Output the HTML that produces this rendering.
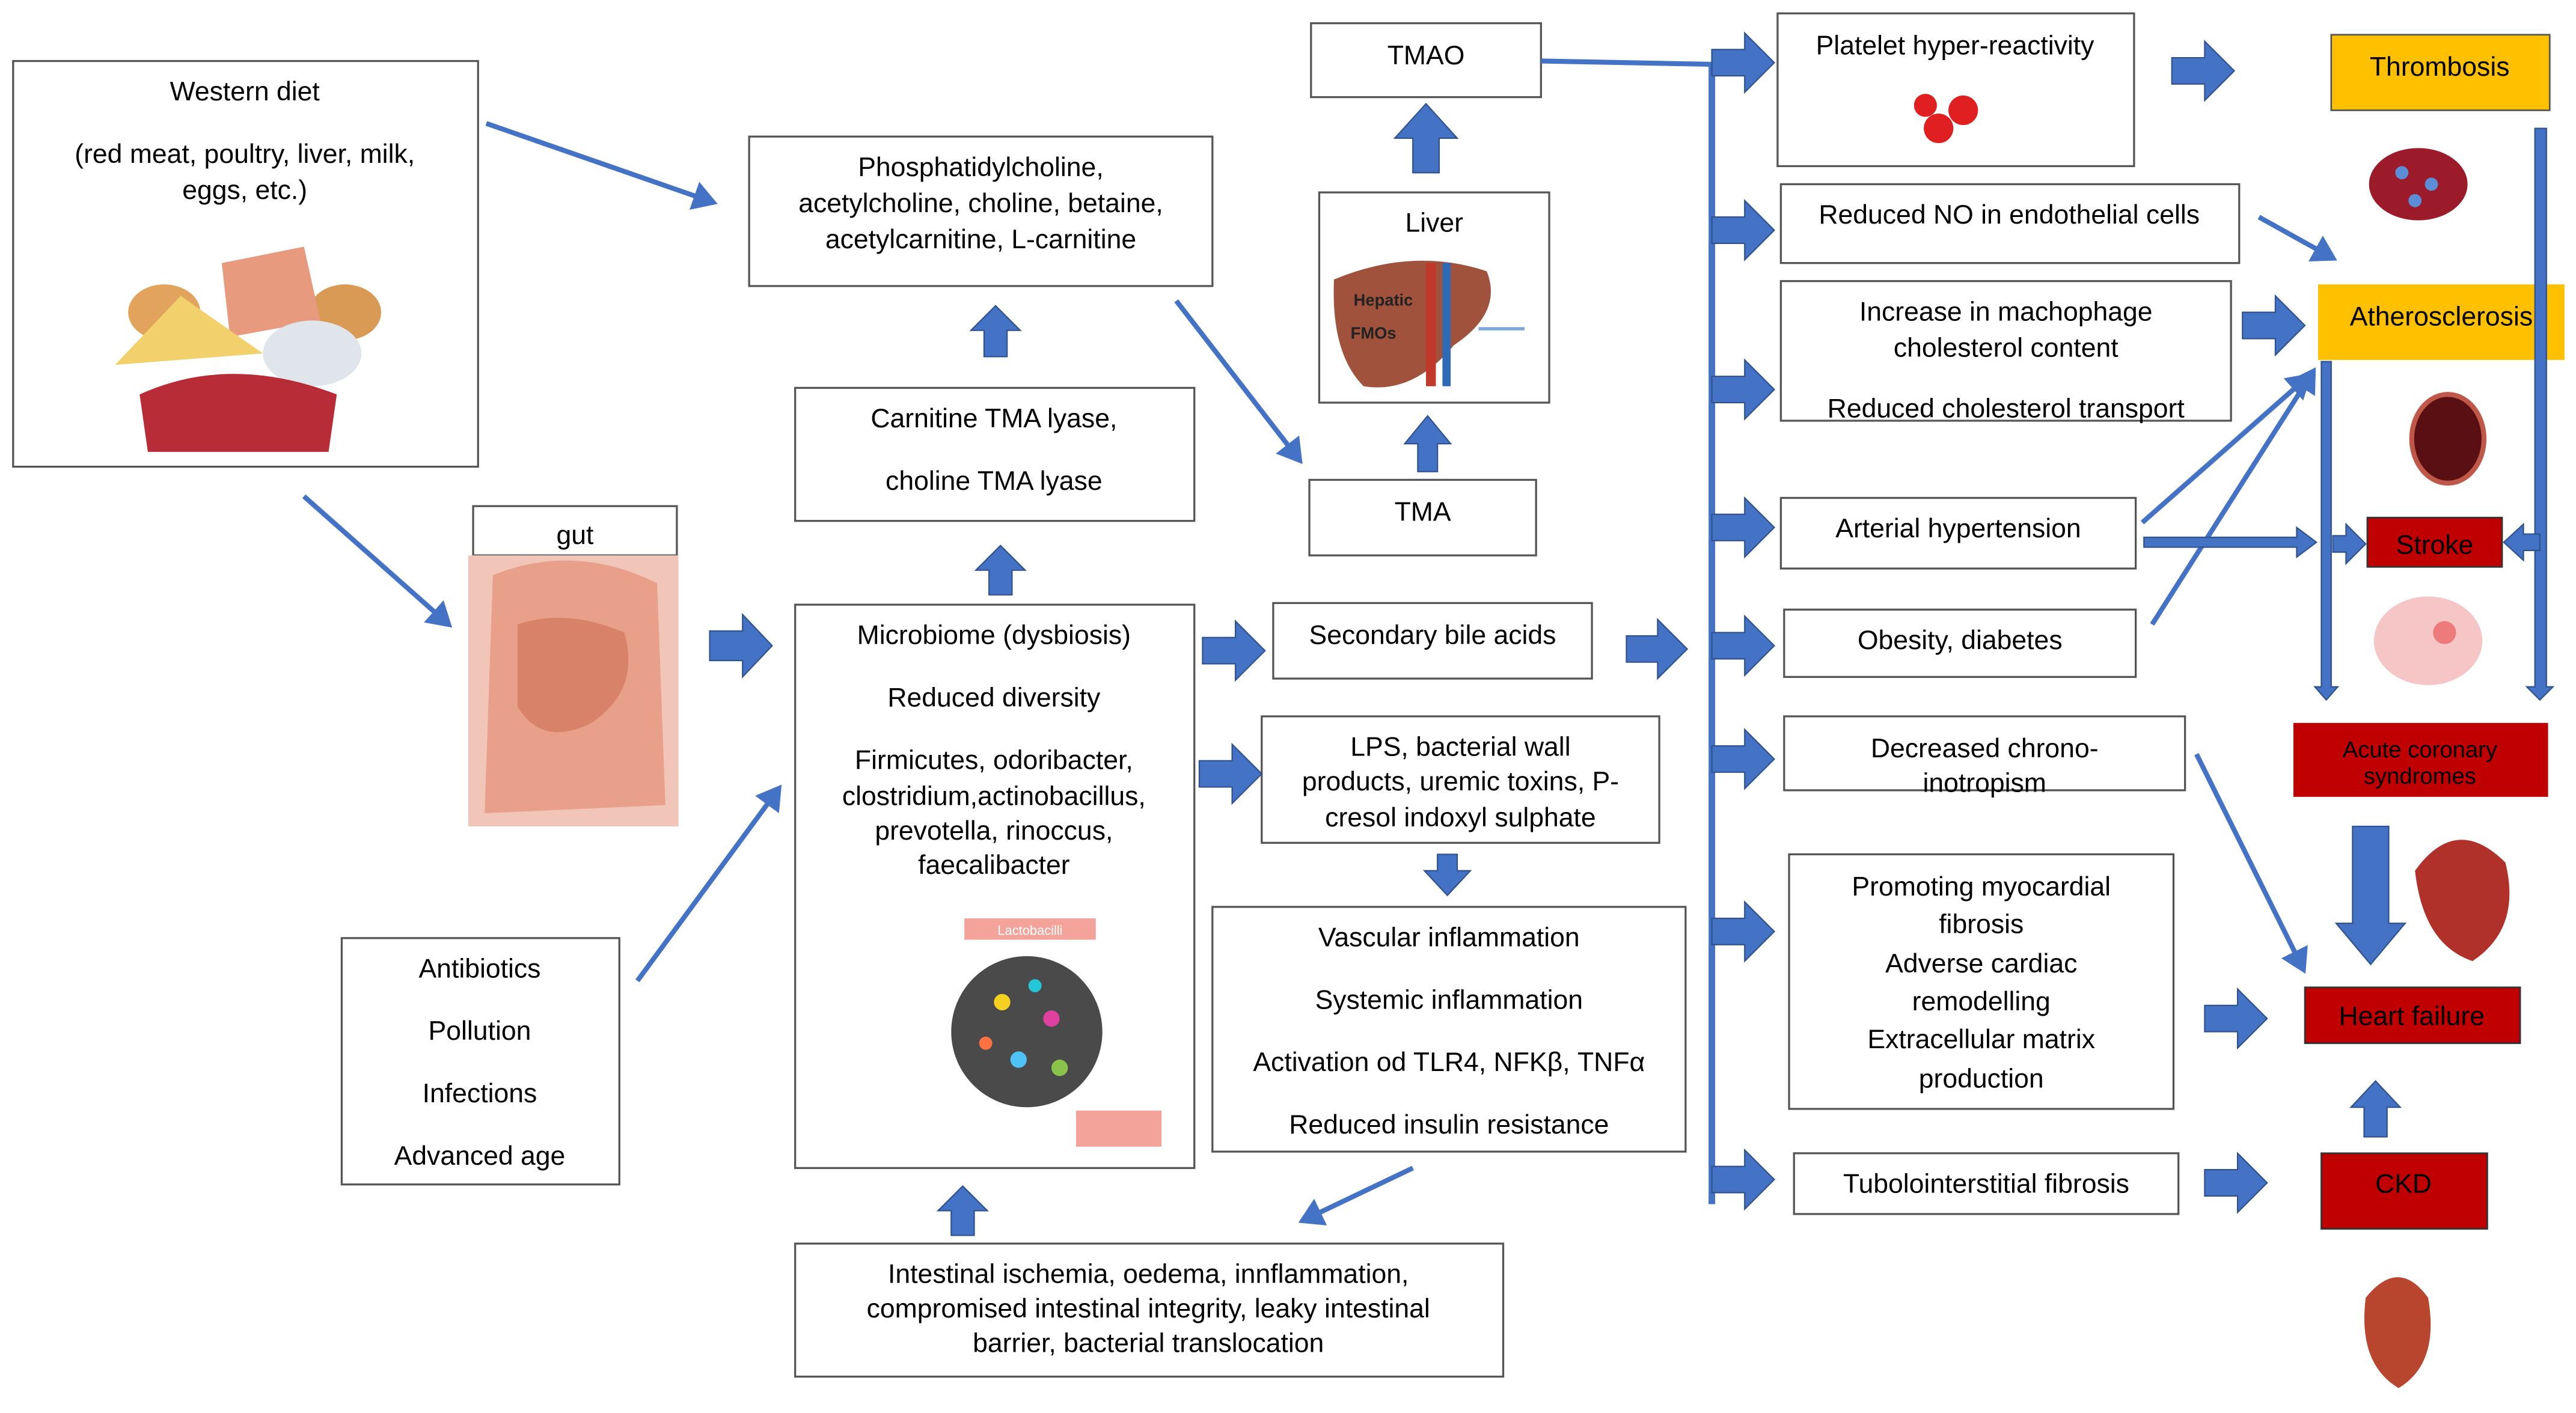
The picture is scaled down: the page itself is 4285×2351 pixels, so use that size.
<!DOCTYPE html>
<html><head><meta charset="utf-8"><style>
html,body{margin:0;padding:0;background:#fff}
svg{display:block}
text{font-family:"Liberation Sans",sans-serif;font-size:16.3px;fill:#000;text-anchor:middle}
.b{fill:#fff;stroke:#555;stroke-width:1.2}
.a{fill:#4472c4;stroke:#2f528f;stroke-width:0.8}
.l{stroke:#4472c4;stroke-width:3;fill:none}
</style></head><body>
<svg width="4285" height="2351" viewBox="0 0 1568 860" xmlns="http://www.w3.org/2000/svg">
<defs><marker id="m" markerWidth="6" markerHeight="6" refX="4" refY="3" orient="auto" markerUnits="strokeWidth"><path d="M0,0 L5,3 L0,6 Z" fill="#4472c4"/></marker></defs>

<rect class="b" x="8" y="37" width="283" height="247"/>
<text x="149" y="61">Western diet</text>
<text x="149" y="99">(red meat, poultry, liver, milk,</text>
<text x="149" y="121">eggs, etc.)</text>
<ellipse cx="100" cy="190" rx="22" ry="17" fill="#e2a45c"/>
<ellipse cx="210" cy="190" rx="22" ry="17" fill="#d99a55"/>
<path d="M135,160 L185,150 L195,195 L140,205 Z" fill="#e79a7e"/>
<path d="M70,222 L110,180 L160,215 Z" fill="#f2d06b"/>
<ellipse cx="190" cy="215" rx="30" ry="20" fill="#dfe5ea"/>
<path d="M85,240 Q140,215 205,240 L200,275 L90,275 Z" fill="#b82c38"/>

<rect class="b" x="456" y="83" width="282" height="91"/>
<text x="597" y="107">Phosphatidylcholine,</text>
<text x="597" y="129">acetylcholine, choline, betaine,</text>
<text x="597" y="151">acetylcarnitine, L-carnitine</text>

<rect class="b" x="484" y="236" width="243" height="81"/>
<text x="605" y="260">Carnitine TMA lyase,</text>
<text x="605" y="298">choline TMA lyase</text>

<rect class="b" x="798" y="14" width="140" height="45"/>
<text x="868" y="39">TMAO</text>

<rect class="b" x="803" y="117" width="140" height="128"/>
<text x="873" y="141">Liver</text>
<path d="M812,170 Q860,150 905,165 Q915,190 885,210 Q860,240 830,235 Q810,215 812,170 Z" fill="#a0523d"/>
<rect x="868" y="160" width="6" height="75" fill="#c0392b"/><rect x="878" y="160" width="5" height="75" fill="#2e6ab5"/>
<line x1="900" y1="200" x2="928" y2="200" stroke="#7fa7d9" stroke-width="2"/>
<text x="842" y="186" style="font-size:10px;font-weight:bold;fill:#222">Hepatic</text>
<text x="836" y="206" style="font-size:10px;font-weight:bold;fill:#222">FMOs</text>

<rect class="b" x="797" y="292" width="138" height="46"/>
<text x="866" y="317">TMA</text>

<rect class="b" x="288" y="308" width="124" height="30"/>
<text x="350" y="331">gut</text>
<rect x="285" y="338" width="128" height="165" fill="#f1c6b8"/>
<path d="M300,350 Q350,330 400,355 L405,490 L295,495 Z" fill="#e8a08a"/>
<path d="M315,380 Q345,370 380,385 Q390,420 360,440 Q330,455 315,430 Z" fill="#d9826a"/>

<rect class="b" x="484" y="368" width="243" height="343"/>
<text x="605" y="392">Microbiome (dysbiosis)</text>
<text x="605" y="430">Reduced diversity</text>
<text x="605" y="468">Firmicutes, odoribacter,</text>
<text x="605" y="490">clostridium,actinobacillus,</text>
<text x="605" y="511">prevotella, rinoccus,</text>
<text x="605" y="532">faecalibacter</text>
<rect x="587" y="559" width="80" height="13" fill="#f4a39a"/>
<text x="627" y="569" style="font-size:8px;fill:#fff">Lactobacilli</text>
<circle cx="625" cy="628" r="46" fill="#4a4a4a"/>
<circle cx="610" cy="610" r="5" fill="#f5d020"/><circle cx="640" cy="620" r="5" fill="#e040a0"/>
<circle cx="620" cy="645" r="5" fill="#4fc3f7"/><circle cx="645" cy="650" r="5" fill="#8bc34a"/>
<circle cx="600" cy="635" r="4" fill="#ff7043"/><circle cx="630" cy="600" r="4" fill="#26c6da"/>
<rect x="655" y="676" width="52" height="22" fill="#f4a39a"/>

<rect class="b" x="775" y="367" width="194" height="46"/>
<text x="872" y="392">Secondary bile acids</text>

<rect class="b" x="768" y="436" width="242" height="77"/>
<text x="889" y="460">LPS, bacterial wall</text>
<text x="889" y="481">products, uremic toxins, P-</text>
<text x="889" y="503">cresol indoxyl sulphate</text>

<rect class="b" x="738" y="552" width="288" height="149"/>
<text x="882" y="576">Vascular inflammation</text>
<text x="882" y="614">Systemic inflammation</text>
<text x="882" y="652">Activation od TLR4, NFKβ, TNFα</text>
<text x="882" y="690">Reduced insulin resistance</text>

<rect class="b" x="208" y="571" width="169" height="150"/>
<text x="292" y="595">Antibiotics</text>
<text x="292" y="633">Pollution</text>
<text x="292" y="671">Infections</text>
<text x="292" y="709">Advanced age</text>

<rect class="b" x="484" y="757" width="431" height="81"/>
<text x="699" y="781">Intestinal ischemia, oedema, innflammation,</text>
<text x="699" y="802">compromised intestinal integrity, leaky intestinal</text>
<text x="699" y="823">barrier, bacterial translocation</text>

<rect class="b" x="1082" y="8" width="217" height="93"/>
<text x="1190" y="33">Platelet hyper-reactivity</text>
<g fill="#e02020"><circle cx="1180" cy="78" r="9"/><circle cx="1195" cy="67" r="9"/><circle cx="1172" cy="64" r="7"/></g>

<rect class="b" x="1084" y="112" width="279" height="48"/>
<text x="1223" y="136">Reduced NO in endothelial cells</text>

<rect class="b" x="1084" y="171" width="274" height="85"/>
<text x="1221" y="195">Increase in machophage</text>
<text x="1221" y="217">cholesterol content</text>
<text x="1221" y="254">Reduced cholesterol transport</text>

<rect class="b" x="1084" y="303" width="216" height="43"/>
<text x="1192" y="327">Arterial hypertension</text>

<rect class="b" x="1086" y="371" width="214" height="41"/>
<text x="1193" y="395">Obesity, diabetes</text>

<rect class="b" x="1086" y="436" width="244" height="45"/>
<text x="1208" y="461">Decreased chrono-</text>
<text x="1208" y="482">inotropism</text>

<rect class="b" x="1089" y="520" width="234" height="155"/>
<text x="1206" y="545">Promoting myocardial</text>
<text x="1206" y="568">fibrosis</text>
<text x="1206" y="592">Adverse cardiac</text>
<text x="1206" y="615">remodelling</text>
<text x="1206" y="638">Extracellular matrix</text>
<text x="1206" y="662">production</text>

<rect class="b" x="1092" y="702" width="234" height="37"/>
<text x="1209" y="726">Tubolointerstitial fibrosis</text>

<rect x="1419" y="21" width="133" height="46" fill="#ffc000" stroke="#555"/>
<text x="1485" y="46">Thrombosis</text>
<rect x="1411" y="173" width="150" height="46" fill="#ffc000"/>
<text x="1486" y="198">Atherosclerosis</text>
<rect x="1441" y="315" width="82" height="30" fill="#c00000" stroke="#333"/>
<text x="1482" y="337">Stroke</text>
<rect x="1396" y="440" width="155" height="45" fill="#c00000"/>
<text x="1473" y="461" style="font-size:14px">Acute coronary</text>
<text x="1473" y="477" style="font-size:14px">syndromes</text>
<rect x="1403" y="601" width="131" height="34" fill="#c00000" stroke="#333"/>
<text x="1468" y="624">Heart failure</text>
<rect x="1413" y="702" width="101" height="46" fill="#c00000" stroke="#333"/>
<text x="1463" y="726">CKD</text>

<ellipse cx="1472" cy="112" rx="30" ry="22" fill="#9b1b2a"/>
<g fill="#5b8ed6"><circle cx="1462" cy="105" r="4"/><circle cx="1480" cy="112" r="4"/><circle cx="1470" cy="122" r="4"/></g>
<ellipse cx="1490" cy="267" rx="22" ry="27" fill="#5a0f12" stroke="#c0584a" stroke-width="3"/>
<ellipse cx="1478" cy="390" rx="33" ry="27" fill="#f6c6c6"/>
<circle cx="1488" cy="385" r="7" fill="#e84a4a" opacity="0.6"/>
<path d="M1470,530 Q1495,495 1525,525 Q1535,565 1505,585 Q1475,575 1470,530 Z" fill="#b0302a"/>
<path d="M1440,790 Q1460,765 1478,790 Q1485,830 1460,845 Q1435,830 1440,790 Z" fill="#b8452e"/>

<line class="l" x1="296" y1="75" x2="434" y2="123" marker-end="url(#m)"/>
<line class="l" x1="185" y1="302" x2="273" y2="380" marker-end="url(#m)"/>
<line class="l" x1="388" y1="597" x2="474" y2="480" marker-end="url(#m)"/>
<line class="l" x1="716" y1="183" x2="791" y2="280" marker-end="url(#m)"/>
<line class="l" x1="860" y1="711" x2="793" y2="743" marker-end="url(#m)"/>
<line class="l" x1="1375" y1="132" x2="1420" y2="157" marker-end="url(#m)"/>
<line class="l" x1="1304" y1="318" x2="1405" y2="229" marker-end="url(#m)"/>
<line class="l" x1="1310" y1="380" x2="1408" y2="226" marker-end="url(#m)"/>
<line class="l" x1="1337" y1="459" x2="1402" y2="590" marker-end="url(#m)"/>
<polyline class="l" points="938,37 1042,39"/>
<line x1="1042" y1="38" x2="1042" y2="733" stroke="#4472c4" stroke-width="4"/>
<path class="a" d="M1305,327 H1398 V321 L1410,330 L1398,339 V333 H1305 Z"/>
<path class="a" d="M1413,220 H1419 V418 H1423 L1416,426 L1409,418 H1413 Z"/>
<path class="a" d="M1543,78 H1550 V418 H1554 L1546,426 L1538,418 H1543 Z"/>

<path class="a" d="M432,384 H452 V374 L470,393 L452,412 V402 H432 Z"/>
<path class="a" d="M732,388 H752 V378 L770,396 L752,414 V404 H732 Z"/>
<path class="a" d="M730,463 H750 V453 L768,471 L750,489 V479 H730 Z"/>
<path class="a" d="M990,387 H1009 V377 L1027,395 L1009,413 V403 H990 Z"/>
<path class="a" d="M1042,30 H1062 V20 L1080,38 L1062,56 V46 H1042 Z"/>
<path class="a" d="M1042,132 H1062 V122 L1080,140 L1062,158 V148 H1042 Z"/>
<path class="a" d="M1042,229 H1062 V219 L1080,237 L1062,255 V245 H1042 Z"/>
<path class="a" d="M1042,313 H1062 V303 L1080,321 L1062,339 V329 H1042 Z"/>
<path class="a" d="M1042,385 H1062 V375 L1080,393 L1062,411 V401 H1042 Z"/>
<path class="a" d="M1042,454 H1062 V444 L1080,462 L1062,480 V470 H1042 Z"/>
<path class="a" d="M1042,559 H1062 V549 L1080,567 L1062,585 V575 H1042 Z"/>
<path class="a" d="M1042,710 H1062 V700 L1080,718 L1062,736 V726 H1042 Z"/>
<path class="a" d="M1322,35 H1342 V25 L1360,43 L1342,61 V51 H1322 Z"/>
<path class="a" d="M1365,190 H1385 V180 L1403,198 L1385,216 V206 H1365 Z"/>
<path class="a" d="M1342,612 H1362 V602 L1380,620 L1362,638 V628 H1342 Z"/>
<path class="a" d="M1342,712 H1362 V702 L1380,720 L1362,738 V728 H1342 Z"/>
<path class="a" d="M1420,326 H1428 V319 L1440,331 L1428,343 V336 H1420 Z"/>
<path class="a" d="M1546,325 H1536 V319 L1524,330 L1536,341 V335 H1546 Z"/>

<path class="a" d="M599,217 V201 H591 L606,186 L621,201 H613 V217 Z"/>
<path class="a" d="M602,362 V347 H594 L609,332 L624,347 H616 V362 Z"/>
<path class="a" d="M860,105 V84 H849 L868,63 L887,84 H876 V105 Z"/>
<path class="a" d="M863,287 V270 H855 L869,253 L883,270 H875 V287 Z"/>
<path class="a" d="M579,752 V737 H571 L586,722 L601,737 H593 V752 Z"/>
<path class="a" d="M1439,692 V674 H1431 L1446,658 L1461,674 H1453 V692 Z"/>
<path class="a" d="M875,520 V530 H867 L881,545 L895,530 H887 V520 Z"/>
<path class="a" d="M1432,503 V562 H1422 L1443,587 L1464,562 H1454 V503 Z"/>
</svg>
</body></html>
